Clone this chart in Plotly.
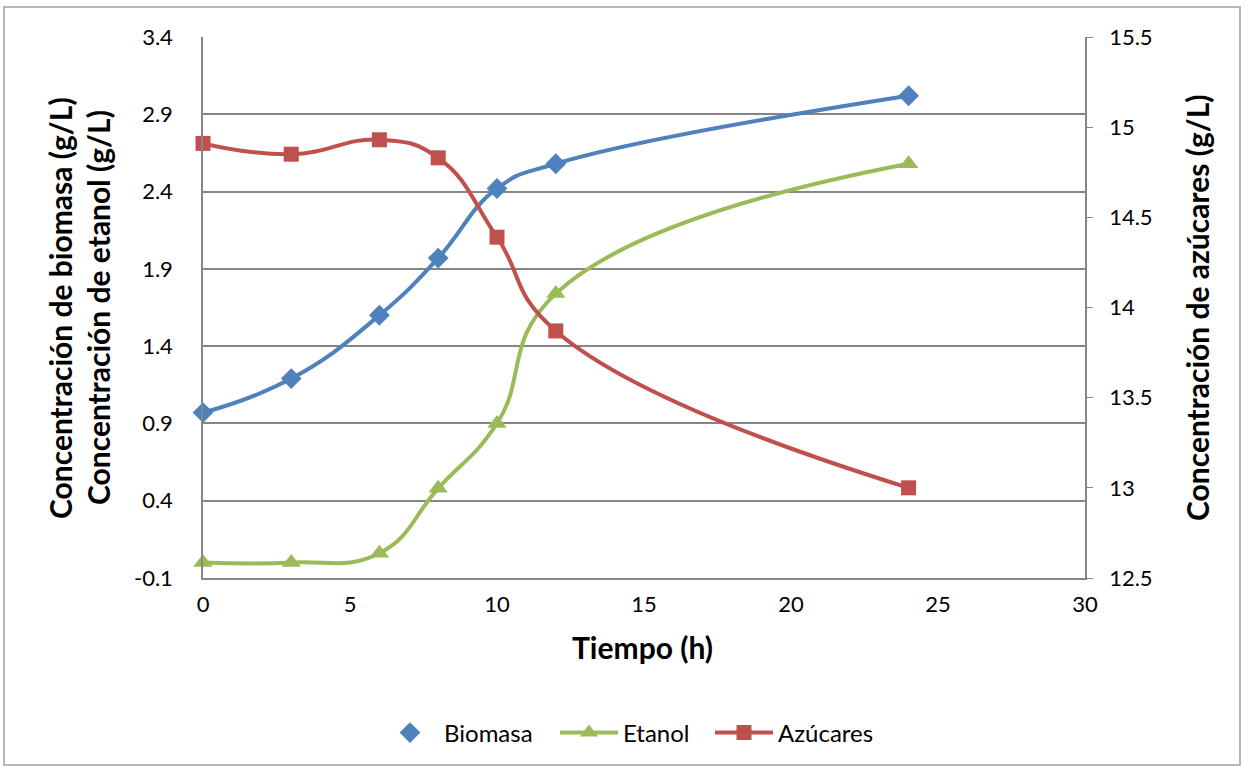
import plotly.graph_objects as go

# Sampling times (h)
tiempo = [0, 3, 6, 8, 10, 12, 24]

# Concentrations (g/L)
biomasa = [0.97, 1.19, 1.60, 1.97, 2.42, 2.58, 3.02]
etanol = [0.00, 0.00, 0.06, 0.48, 0.90, 1.74, 2.58]
azucares = [14.91, 14.85, 14.93, 14.83, 14.39, 13.87, 13.00]

# Left axis ticks (hyphen as the negative sign)
y_ticks = [-0.1, 0.4, 0.9, 1.4, 1.9, 2.4, 2.9, 3.4]
y_ticktext = ["-0.1", "0.4", "0.9", "1.4", "1.9", "2.4", "2.9", "3.4"]

BLUE = "#4F81BD"
GREEN = "#9BBB59"
RED = "#C0504D"
GRID = "#868686"
FONT = "Lato"

fig = go.Figure()

# Biomass: smooth line without legend entry, markers in the legend
fig.add_trace(go.Scatter(
    x=tiempo, y=biomasa, mode="lines",
    line=dict(color=BLUE, width=4, shape="spline", smoothing=1.3),
    showlegend=False, hoverinfo="skip", cliponaxis=False))
fig.add_trace(go.Scatter(
    x=tiempo, y=biomasa, mode="markers", name="Biomasa", legendwidth=106,
    marker=dict(symbol="diamond", size=16, color=BLUE), cliponaxis=False))

fig.add_trace(go.Scatter(
    x=tiempo, y=etanol, mode="lines+markers", name="Etanol", legendwidth=82,
    line=dict(color=GREEN, width=4, shape="spline", smoothing=1.3),
    marker=dict(symbol="triangle-up", size=17, color=GREEN), cliponaxis=False))

fig.add_trace(go.Scatter(
    x=tiempo, y=azucares, mode="lines+markers", name="Azúcares", yaxis="y2",
    line=dict(color=RED, width=4, shape="spline", smoothing=1.3),
    marker=dict(symbol="square", size=15, color=RED), cliponaxis=False))

W, H = 1245, 767
L, R, T, B = 203, 160, 37, 189
pw, ph = W - L - R, H - T - B


def px(x):
    return (x - L) / pw


def py(y):
    return (H - B - y) / ph


fig.update_layout(
    width=W, height=H,
    margin=dict(l=L, r=R, t=T, b=B),
    paper_bgcolor="white", plot_bgcolor="white",
    font=dict(family=FONT, size=22, color="#000000"),
    xaxis=dict(range=[0, 30], dtick=5, tick0=0, showgrid=False, zeroline=False,
               showline=True, linecolor=GRID, linewidth=1.5, ticks="",
               ticklabelstandoff=6, tickfont=dict(size=22)),
    yaxis=dict(range=[-0.1, 3.4], tickmode="array", tickvals=y_ticks,
               ticktext=y_ticktext, showgrid=True,
               gridcolor=GRID, gridwidth=1.5, zeroline=False, showline=True,
               linecolor=GRID, linewidth=1.5, ticks="",
               ticklabelstandoff=24, tickfont=dict(size=22)),
    yaxis2=dict(range=[12.5, 15.5], tick0=12.5, dtick=0.5, overlaying="y",
                side="right", showgrid=False, zeroline=False, showline=True,
                linecolor=GRID, linewidth=1.5, ticks="outside", ticklen=6,
                tickcolor=GRID, ticklabelstandoff=12, tickfont=dict(size=22)),
    legend=dict(orientation="h", x=px(376), xanchor="left", y=py(733), yanchor="middle",
                font=dict(size=24), itemwidth=58, bgcolor="rgba(0,0,0,0)"),
    showlegend=True,
)

annotations = [
    dict(text="Concentración de biomasa (g/L)", x=px(60), y=py(308), textangle=-90),
    dict(text="Concentración de etanol (g/L)", x=px(98), y=py(308), textangle=-90),
    dict(text="Concentración de azúcares (g/L)", x=px(1197), y=py(308), textangle=-90),
    dict(text="Tiempo (h)", x=px(642), y=py(647)),
]
for a in annotations:
    fig.add_annotation(xref="paper", yref="paper", showarrow=False,
                       xanchor="center", yanchor="middle",
                       font=dict(family=FONT, size=30, color="#000000"),
                       text="<b>" + a["text"] + "</b>", x=a["x"], y=a["y"],
                       textangle=a.get("textangle", 0))

# Chart border
fig.add_shape(type="rect", xref="paper", yref="paper",
              x0=px(4), x1=px(1240), y0=py(765), y1=py(7),
              line=dict(color="#A0A0A0", width=1.5), layer="below")

fig.write_html("out.html")
